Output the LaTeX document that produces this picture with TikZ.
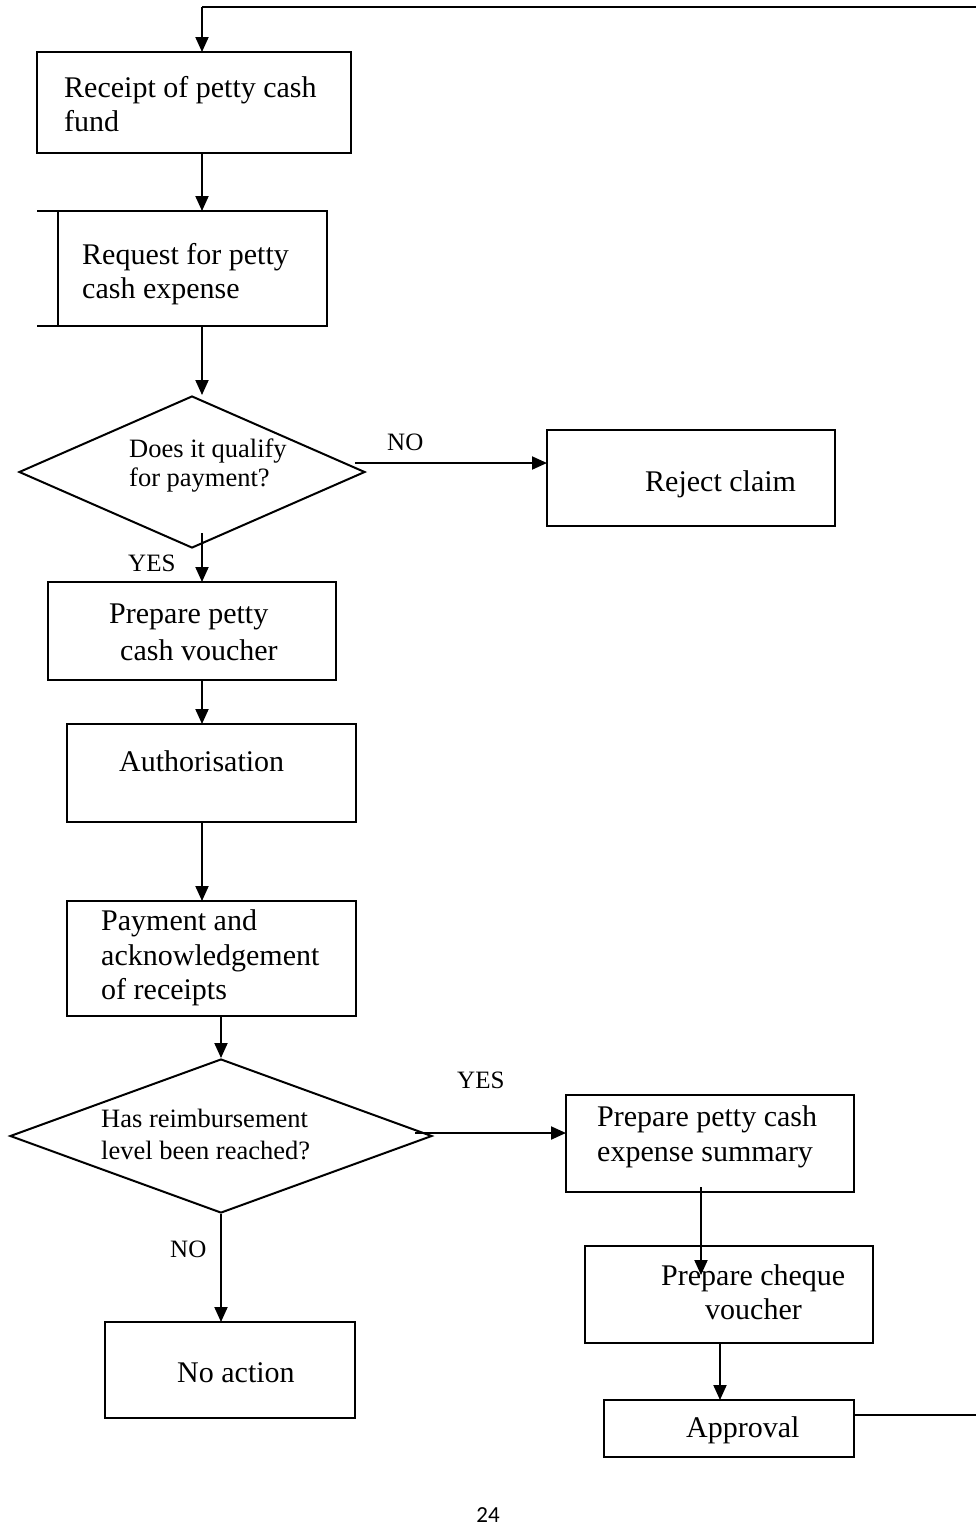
\documentclass[tikz,border=0pt]{standalone}
\usepackage{fontspec}
\setmainfont{Liberation Serif}
\newfontfamily\pagefont{Carlito}
\usetikzlibrary{arrows.meta,shapes.geometric}
\begin{document}
\begin{tikzpicture}[x=1pt,y=-1pt,
  box/.style={draw,line width=2pt,rectangle,inner sep=0pt,outer sep=0pt},
  dia/.style={draw,line width=2pt,diamond,inner sep=0pt},
  arr/.style={line width=2pt,-{Triangle[width=13pt,length=15pt]}},
  ln/.style={line width=2pt},
  txt/.style={anchor=base west,inner sep=0pt,font=\fontsize{30}{34}\selectfont},
  dtxt/.style={anchor=base west,inner sep=0pt,font=\fontsize{26.5}{30}\selectfont},
  lbl/.style={anchor=base west,inner sep=0pt,font=\fontsize{25}{30}\selectfont}]
\useasboundingbox (0,0) rectangle (976,1535);
% boxes
\node[box,minimum width=314pt,minimum height=101pt] (b1) at (194,102.5) {};
\node[box,minimum width=269pt,minimum height=115pt] (b2) at (192.5,268.5) {};
\coordinate (b2tl) at (37,211);
\coordinate (b2bl) at (37,326);
\draw[ln] (b2tl) -- (b2.north west);
\draw[ln] (b2bl) -- (b2.south west);
\node[dia,minimum width=346pt,minimum height=152pt] (d1) at (192,472) {};
\node[box,minimum width=288pt,minimum height=96pt] (rej) at (691,478) {};
\node[box,minimum width=288pt,minimum height=98pt] (pv) at (192,631) {};
\node[box,minimum width=289pt,minimum height=98pt] (auth) at (211.5,773) {};
\node[box,minimum width=289pt,minimum height=115pt] (pay) at (211.5,958.5) {};
\node[dia,minimum width=422pt,minimum height=154pt] (d2) at (221,1136) {};
\node[box,minimum width=288pt,minimum height=97pt] (sum) at (710,1143.5) {};
\node[box,minimum width=288pt,minimum height=97pt] (chq) at (729,1294.5) {};
\node[box,minimum width=250pt,minimum height=57pt] (appr) at (729,1428.5) {};
\node[box,minimum width=250pt,minimum height=96pt] (noact) at (230,1370) {};
% texts
\node[txt] (t1a) at (64,97) {Receipt of petty cash};
\node[txt] (t1b) at (64,131) {fund};
\node[txt] (t2a) at (82,264) {Request for petty};
\node[txt] (t2b) at (82,298) {cash expense};
\node[dtxt] (t3a) at (129,457) {Does it qualify};
\node[dtxt] (t3b) at (129,486) {for payment?};
\node[lbl] (lno1) at (387,450) {NO};
\node[txt] (t4) at (645,491) {Reject claim};
\node[lbl] (lyes1) at (128,571) {YES};
\node[txt] (t5a) at (109,623) {Prepare petty};
\node[txt] (t5b) at (120,660) {cash voucher};
\node[txt] (t6) at (119,771) {Authorisation};
\node[txt] (t7a) at (101,930) {Payment and};
\node[txt] (t7b) at (101,965) {acknowledgement};
\node[txt] (t7c) at (101,999) {of receipts};
\node[dtxt] (t8a) at (101,1127) {Has reimbursement};
\node[dtxt] (t8b) at (101,1159) {level been reached?};
\node[lbl] (lyes2) at (457,1088) {YES};
\node[txt] (t9a) at (597,1126) {Prepare petty cash};
\node[txt] (t9b) at (597,1161) {expense summary};
\node[txt] (t10a) at (661,1285) {Prepare cheque};
\node[txt] (t10b) at (705,1319) {voucher};
\node[txt] (t11) at (686,1437) {Approval};
\node[lbl] (lno2) at (170,1257) {NO};
\node[txt] (t12) at (177,1382) {No action};
\node[anchor=base,inner sep=0pt,font=\pagefont\fontsize{23}{26}\selectfont] (pg) at (488,1522) {24};
% connectors
\coordinate (topl) at (202,7);
\coordinate (topr) at (976,7);
\coordinate (apr) at (976,1415);
\draw[ln] (topr) -- (topl);
\draw[arr] (topl) -- (b1.north -| topl);
\draw[arr] (b1.south -| topl) -- (b2.north -| topl);
\draw[arr] (b2.south -| topl) -- (d1.north -| topl);
\coordinate (d1r) at (355,463);
\draw[arr] (d1r) -- (rej.west |- d1r);
\coordinate (d1b) at (202,533);
\draw[arr] (d1b) -- (pv.north -| d1b);
\draw[arr] (pv.south -| topl) -- (auth.north -| topl);
\draw[arr] (auth.south -| topl) -- (pay.north -| topl);
\draw[arr] (pay.south -| d2.north) -- (d2.north);
\coordinate (d2r) at (415,1133);
\draw[arr] (d2r) -- (sum.west |- d2r);
\coordinate (sb) at (701,1187);
\coordinate (sbe) at (701,1275);
\draw[arr] (sb) -- (sbe);
\coordinate (cx) at (720,0);
\draw[arr] (chq.south -| cx) -- (appr.north -| cx);
\draw[ln] (appr.east |- apr) -- (apr);
\draw[arr] (d2.south) -- (noact.north -| d2.south);
\end{tikzpicture}
\end{document}
